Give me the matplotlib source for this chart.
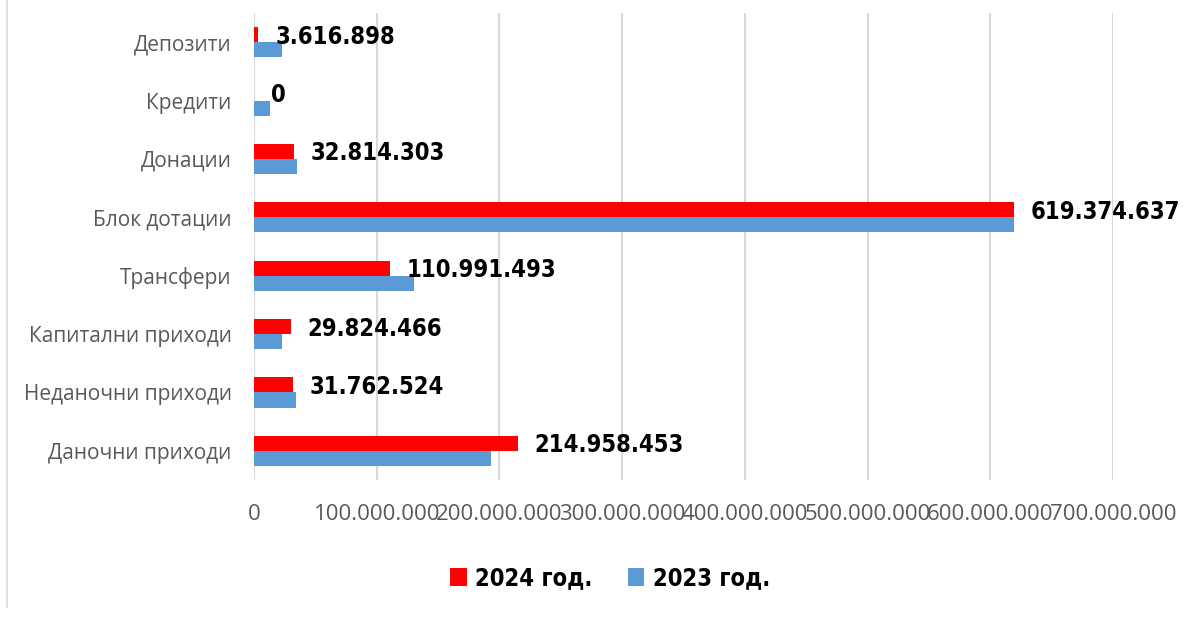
import matplotlib.pyplot as plt
import numpy as np
from matplotlib.lines import Line2D

# bottom to top, like the source chart
categories = ['Даночни приходи', 'Неданочни приходи', 'Капитални приходи', 'Трансфери',
              'Блок дотации', 'Донации', 'Кредити', 'Депозити']
values_2024 = [214958453, 31762524, 29824466, 110991493, 619374637, 32814303, 0, 3616898]
values_2023 = [193100000, 33900000, 23200000, 130400000, 619500000, 34900000, 13100000, 22700000]
x_ticks = [0, 100000000, 200000000, 300000000, 400000000, 500000000, 600000000, 700000000]

RED = '#FF0000'
BLUE = '#5B9BD5'
GRID = '#D9D9D9'

def fmt(v):
    return f'{v:,}'.replace(',', '.')

fig = plt.figure(figsize=(12.03, 6.19), dpi=100, facecolor='white')
ax = fig.add_axes([254 / 1203, 1 - 480 / 619, (1113 - 254) / 1203, (480 - 13) / 619])

y = np.arange(len(categories))
h = 0.26
ax.barh(y + h / 2, values_2024, height=h, color=RED, label='2024 год.', zorder=3)
ax.barh(y - h / 2, values_2023, height=h, color=BLUE, label='2023 год.', zorder=3)

for yi, v in zip(y, values_2024):
    ax.annotate(fmt(v), (v, yi + h / 2), xytext=(12, -1.5), textcoords='offset points',
                ha='left', va='center', fontsize=17, fontweight='bold', color='black',
                family='DejaVu Sans', fontstretch='condensed', zorder=5)

ax.set_xlim(0, 700000000)
ax.set_ylim(-0.5, len(categories) - 0.5)
ax.set_xticks(x_ticks)
ax.set_xticklabels([fmt(t) for t in x_ticks], fontsize=16, color='#595959', family='Open Sans')
ax.set_yticks(y)
ax.set_yticklabels(categories, fontsize=15, color='#595959', family='Open Sans')
ax.tick_params(axis='x', length=0, pad=17)
ax.tick_params(axis='y', length=0, pad=16)
ax.xaxis.grid(True, color=GRID, lw=1.5, zorder=0)
for s in ax.spines.values():
    s.set_visible(False)

handles, labels = ax.get_legend_handles_labels()
leg = fig.legend(handles, labels, loc='center', bbox_to_anchor=(610 / 1203, 1 - 578 / 619),
                 ncol=2, frameon=False, handlelength=0.7, handleheight=0.8,
                 handletextpad=0.35, columnspacing=1.5,
                 prop={'family': 'DejaVu Sans', 'stretch': 'condensed', 'weight': 'bold', 'size': 17})

fig.add_artist(Line2D([7 / 1203, 7 / 1203], [0.02, 1], transform=fig.transFigure, color=GRID, lw=1.2))

fig.savefig('out.png', dpi=100, facecolor='white')
